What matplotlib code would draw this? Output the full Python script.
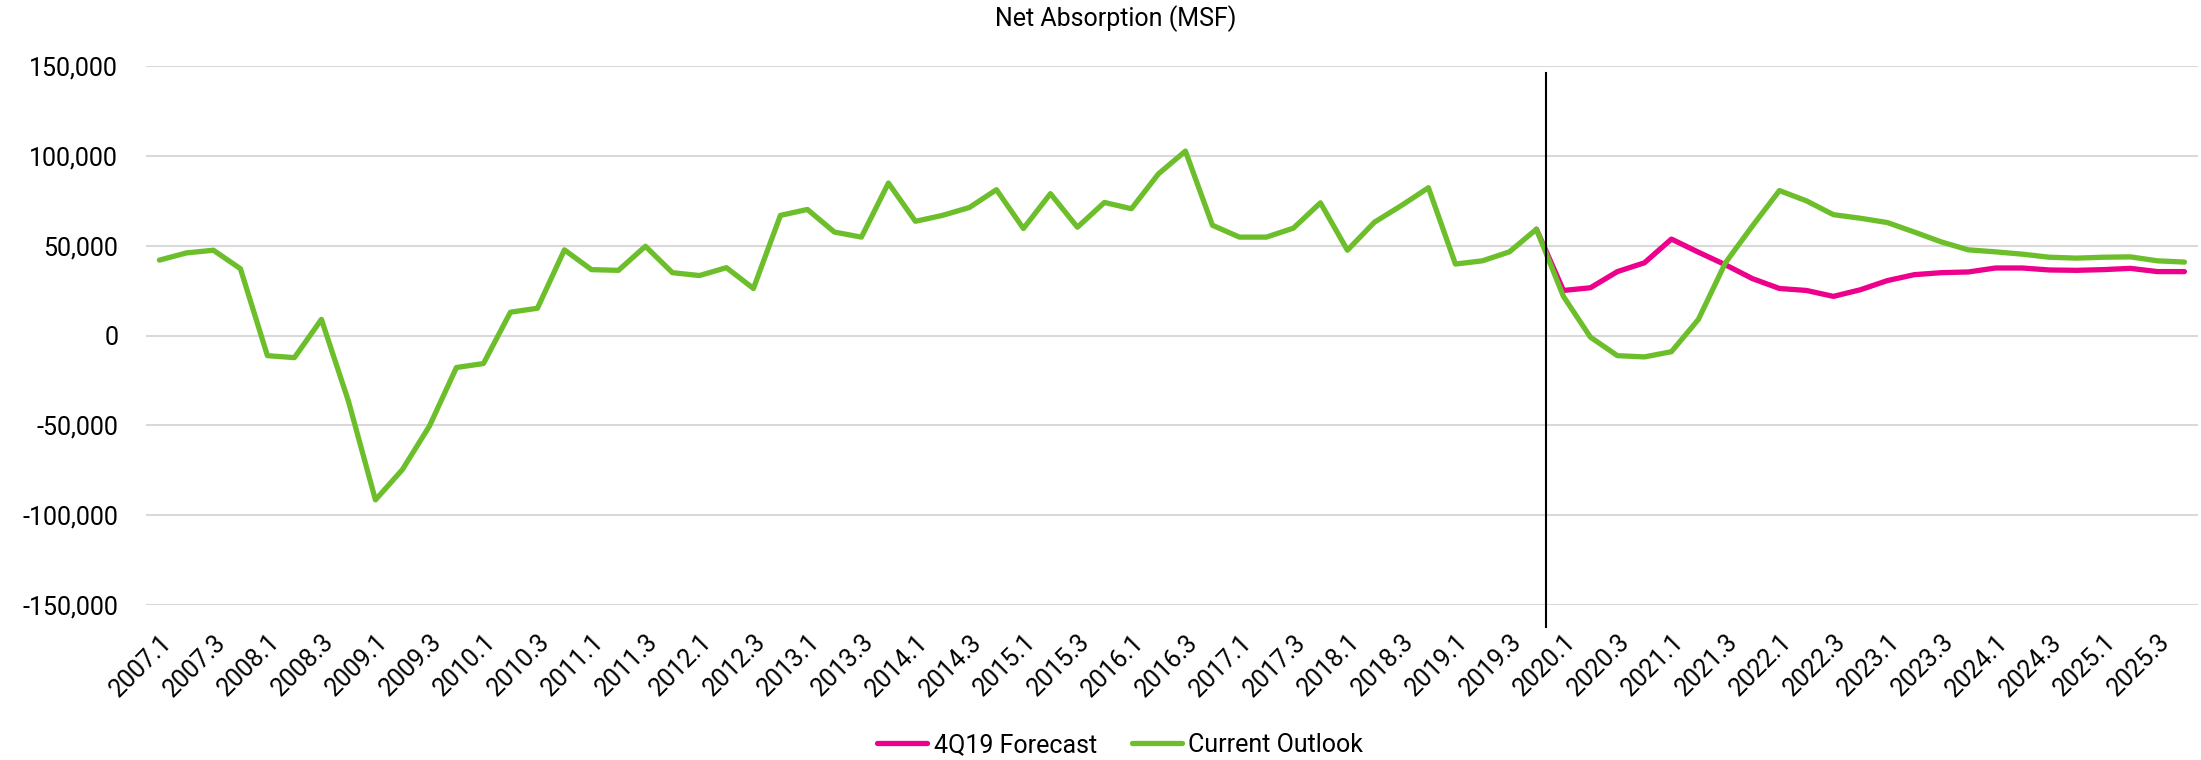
import numpy as np
import matplotlib.pyplot as plt
from matplotlib.ticker import FuncFormatter

plt.rcParams['font.family'] = ['Roboto', 'DejaVu Sans']

# quarters 2007.1 .. 2025.4
quarters = [f"{y}.{q}" for y in range(2007, 2026) for q in range(1, 5)]

current_outlook = [
    42000, 46000, 47500, 37200, -11200, -12300, 9000, -36500,
    -91500, -74600, -50400, -17800, -15600, 13000, 15200, 47700,
    36700, 36300, 49700, 35000, 33400, 37800, 26200, 66900,
    70200, 57600, 54800, 84900, 63600, 66900, 71300, 81200,
    59600, 79000, 60300, 74100, 70600, 90000, 102700, 61400,
    54800, 54800, 59800, 73900, 47500, 63100, 72400, 82300,
    39800, 41600, 46600, 59200, 21800, -900, -11200, -11900,
    -9000, 9000, 40500, 61000, 80700, 75000, 67300, 65300,
    62900, 57600, 52100, 47700, 46600, 45300, 43600, 43100,
    43600, 43800, 41600, 40900,
]

# 4Q19 forecast starts from the 2019.4 actual
forecast_start = 51
forecast_4q19 = [
    59200, 25100, 26600, 35600, 40500, 53700, 46400, 39400,
    31700, 26200, 25100, 21800, 25500, 30600, 33900, 35000,
    35400, 37600, 37600, 36500, 36300, 36700, 37400, 35600, 35600,
]

fig = plt.figure(figsize=(22.01, 7.6), dpi=100)
ax = fig.add_axes([0.0663, 0.204, 0.9323, 0.709])

x = np.arange(len(quarters))
xf = np.arange(forecast_start, forecast_start + len(forecast_4q19))

ax.plot(xf, forecast_4q19, color='#EC008C', lw=3.8, label='4Q19 Forecast', solid_capstyle='round')
ax.plot(x, current_outlook, color='#6CBE2A', lw=3.8, label='Current Outlook', solid_capstyle='round')

# divider between history and forecast
ax.plot([51.37, 51.37], [146000, -162000], color='black', lw=1.5, clip_on=False, zorder=5)

ax.set_xlim(-0.5, len(quarters) - 0.5)
ax.set_ylim(-150000, 150000)
ax.set_yticks(np.arange(-150000, 150001, 50000))
ax.yaxis.set_major_formatter(FuncFormatter(lambda v, p: f"{int(v):,}"))
ax.set_xticks(x[::2])
ax.set_xticklabels(quarters[::2], rotation=45, ha='right', rotation_mode='anchor')

ax.grid(axis='y', color='#D9D9D9', lw=1.5)
ax.set_axisbelow(True)
for s in ax.spines.values():
    s.set_visible(False)
ax.tick_params(axis='both', length=0, labelsize=18, colors='black')
ax.tick_params(axis='y', pad=20)
ax.tick_params(axis='x', pad=18)

fig.text(0.507, 0.975, 'Net Absorption (MSF)', ha='center', va='center', fontsize=18, color='black')

fig.legend(loc='center', bbox_to_anchor=(0.509, 0.02), ncol=2, frameon=False, fontsize=18,
           handlelength=2.0, handletextpad=0.25, columnspacing=1.4)

fig.savefig('out.png', dpi=100)
